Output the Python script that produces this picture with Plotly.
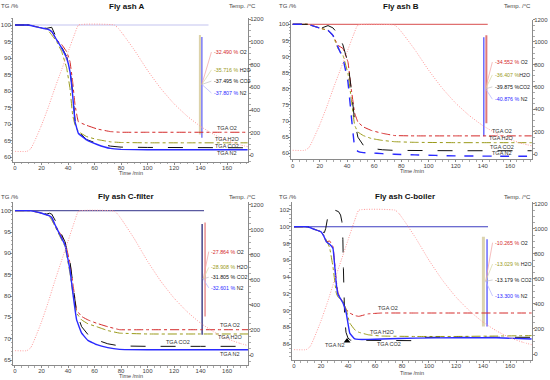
import plotly.graph_objects as go

W, H = 550, 380
FONT = "Liberation Sans"

# ---------------- data ----------------
GASES = ["O2", "H2O", "CO2", "N2"]

TEMP_T = [0, 9, 12, 15, 20, 25, 30, 35, 40, 45, 48, 75, 78, 82, 90, 100, 110, 120, 130, 140, 150, 160, 170, 176]
TEMP_V = [35, 35, 60, 130, 265, 420, 590, 750, 910, 1070, 1150, 1150, 1120, 1060, 930, 750, 590, 455, 345, 255, 185, 130, 92, 75]

# Panel A
A_T = [0, 10, 19, 24, 27.7, 31.4, 35.2, 39, 41.5, 43.5, 45.3, 47.8, 54, 62, 72, 80, 100, 130, 160, 175.5]
A_O2 = [100, 100, 99.2, 98.8, 98.0, 95.5, 94.1, 91.9, 88.9, 82.8, 75.8, 70.7, 69.6, 68.5, 67.7, 67.5, 67.5, 67.5, 67.5, 67.5]
A_H2O = [100, 100, 99.2, 98.8, 97.0, 95.0, 92.0, 86.9, 80.8, 72.7, 69.7, 67.7, 66.2, 65.3, 64.6, 64.4, 64.3, 64.3, 64.3, 64.3]
A_CO2 = [100, 100, 99.2, 99.0, 99.3, 96.0, 93.4, 90.4, 86.4, 79.8, 71.2, 67.7, 65.3, 64.1, 63.3, 63.0, 62.9, 62.8, 62.8, 62.8]
A_N2 = [100, 100, 99.2, 98.8, 98.0, 95.5, 93.0, 89.9, 85.9, 78.8, 70.7, 67.2, 65.2, 63.8, 62.6, 62.3, 62.2, 62.2, 62.2, 62.2]

# Panel B
B_T = [0, 11, 21, 26, 29.6, 33.3, 37, 40.7, 43.1, 45.6, 48, 52, 57.8, 66, 75, 90, 120, 150, 176]
B_O2 = [100, 100, 98.7, 98.1, 96.6, 93.5, 92.5, 88.3, 80.0, 72.5, 69.7, 68.2, 67.1, 66.2, 65.5, 65.4, 65.4, 65.4, 65.4]
B_H2O = [100, 100, 98.7, 98.1, 96.6, 92.5, 90.4, 84.7, 77.0, 68.7, 66.6, 65.5, 64.6, 64.0, 63.6, 63.4, 63.3, 63.3, 63.3]
B_CO2 = [100, 100, 98.8, 99.6, 98.9, 97.0, 93.6, 88.0, 80.0, 70.0, 65.0, 62.5, 61.5, 61.1, 60.9, 60.8, 60.8, 60.8, 60.8]
B_N2 = [100, 100, 98.7, 98.1, 96.6, 93.0, 89.4, 82.1, 71.8, 62.0, 60.6, 60.2, 60.1, 59.9, 59.7, 59.5, 59.2, 59.1, 59.1]

# Panel C
C_T = [0, 11, 19, 24, 26, 27.7, 30.2, 34, 37.7, 41.5, 44, 46.5, 50.3, 55, 61.7, 70, 79, 100, 140, 176]
C_O2 = [100, 100, 99.5, 99.0, 98.8, 98.4, 96.7, 94.7, 92.7, 87.7, 82.2, 76.7, 75.2, 74.4, 73.6, 72.8, 72.1, 72.1, 72.1, 72.1]
C_H2O = [100, 100, 99.5, 99.0, 98.6, 97.8, 96.3, 93.9, 91.6, 85.3, 79.9, 76.0, 74.4, 73.5, 72.8, 71.9, 71.3, 71.1, 71.1, 71.1]
C_CO2 = [100, 100, 99.5, 99.2, 99.4, 99.2, 97.8, 95.1, 92.7, 88.1, 81.4, 76.0, 72.8, 71.0, 69.7, 68.8, 68.3, 68.2, 68.2, 68.2]
C_N2 = [100, 100, 99.5, 99.0, 98.8, 98.4, 96.7, 94.3, 92.0, 86.1, 79.9, 74.4, 71.3, 69.6, 68.6, 67.9, 67.5, 67.4, 67.4, 67.4]

# Panel D
D_T = [0, 10, 15, 20, 22, 24, 26.4, 28.9, 31.3, 32.6, 36.3, 38.7, 41.3, 45, 48, 55, 65, 90, 120, 150, 176]
D_O2 = [100, 100, 99.7, 99.4, 98.9, 98.2, 98.3, 97.6, 93.6, 92.1, 90.9, 90.1, 89.7, 89.4, 89.3, 89.6, 89.7, 89.7, 89.7, 89.7, 89.7]
D_H2O = [100, 100, 99.7, 99.4, 99.0, 98.4, 97.5, 95.2, 92.1, 91.6, 91.1, 90.1, 88.5, 87.7, 87.4, 87.1, 86.95, 86.9, 86.9, 86.95, 87.0]
D_N2 = [100, 100, 99.7, 99.4, 98.9, 98.2, 97.9, 97.4, 93.2, 91.9, 90.9, 89.7, 87.3, 86.6, 86.55, 86.55, 86.6, 86.7, 86.75, 86.75, 86.6]
D_CO2_T = [0, 10, 15, 20, 22.5, 23.5, 24.5, 25.5, 27, 30, 33, 34.5, 35.5, 36.2, 36.6, 37.0, 37.5, 38.5, 40, 42, 60, 88, 91, 120, 150, 176]
D_CO2 = [100, 100, 99.7, 99.4, 99.3, 99.8, 100.8, 101.6, 102.0, 102.0, 101.8, 101.4, 100.6, 98.5, 95.0, 92.0, 89.3, 87.4, 86.7, 86.45, 86.4, 86.4, 86.8, 86.8, 86.8, 86.8]

# mass-change labels
A_PCT = ["-32.490 %", "-35.716 %", "-37.495 %", "-37.807 %"]
B_PCT = ["-34.552 %", "-36.407 %", "-39.875 %", "-40.876 %"]
C_PCT = ["-27.864 %", "-28.908 %", "-31.805 %", "-32.601 %"]
D_PCT = ["-10.265 %", "-13.029 %", "-13.179 %", "-13.300 %"]
B_SEP = [" ", "", "", " "]

# ---------------- styles ----------------
COL = {"O2": "#d42a2a", "H2O": "#9a9a1a", "CO2": "#111111", "N2": "#2a2aff"}
DASH = {"O2": "dashdot", "H2O": "dashdot", "CO2": "longdash", "N2": "solid"}
LEAD = {"O2": "#f0a0a0", "H2O": "#d8d8a0", "CO2": "#c0c0c0", "N2": "#b0b0ff"}

panels = [
    dict(title="Fly ash A", xdom=[13, 248], ydom=[18.3, 161.7], xr=[-1.5, 175.8], yr=[58.58, 102.03],
         y2r=[-56, 1209], ytick=dict(tick0=60, dtick=5), yminor=1,
         series=[(A_T, A_O2), (A_T, A_H2O), (A_T, A_CO2), (A_T, A_N2)], n2dash="solid",
         base=dict(end=146, color="#c4c4f0"),
         bars=[(139.5, 97.0, 66.8, "#ddd3aa", 2), (141.0, 96.4, 65.8, "#7a7af5", 1.5)],
         lead_from=(141.0, 82.0),
         pct=A_PCT, sep=[" "] * 4, pct_x=148.7, pct_y=[91.8, 86.4, 83.0, 79.4],
         tga_x=[160, 160, 160, 160], tga_y=[68.8, 65.45, 63.3, 61.2],
         head=(10, 126, 258, 6.5), xlab_y=172.5),
    dict(title="Fly ash B", xdom=[291, 532], ydom=[19.5, 159.3], xr=[-1.25, 176.2], yr=[58.14, 101.49],
         y2r=[-45, 1200], ytick=dict(tick0=60, dtick=5), yminor=1,
         series=[(B_T, B_O2), (B_T, B_H2O), (B_T, B_CO2), (B_T, B_N2)], n2dash="dash",
         base=dict(end=143.6, color="#e07070"),
         bars=[(140.7, 96.0, 65.3, "#6a6aff", 1.5), (142.6, 96.6, 69.3, "#e07878", 2)],
         lead_from=(142.0, 80.0),
         pct=B_PCT, sep=B_SEP, pct_x=147.5, pct_y=[88.3, 84.3, 80.6, 76.8],
         tga_x=[154, 154, 154, 154], tga_y=[67.0, 64.65, 62.0, 60.0],
         head=(288, 401, 533, 6.5), xlab_y=170.5),
    dict(title="Fly ash C-filter", xdom=[13, 248], ydom=[201.7, 365], xr=[-1.5, 175.8], yr=[63.83, 102.1],
         y2r=[-80, 1226], ytick=dict(tick0=65, dtick=5), yminor=1,
         series=[(C_T, C_O2), (C_T, C_H2O), (C_T, C_CO2), (C_T, C_N2)], n2dash="solid",
         base=dict(end=142.6, color="#5a5aa0"),
         bars=[(141.2, 96.9, 70.9, "#44448a", 1.5), (143.4, 97.2, 75.2, "#e89090", 1.5)],
         lead_from=(142.0, 84.0),
         pct=C_PCT, sep=[" "] * 4, pct_x=146.7, pct_y=[90.4, 86.7, 84.4, 81.9],
         tga_x=[162.3, 162.3, 123.3, 162.3], tga_y=[73.2, 70.5, 69.3, 66.3],
         head=(10, 126, 258, 197), xlab_y=375.5),
    dict(title="Fly ash C-boiler", xdom=[291.7, 532], ydom=[201.7, 360], xr=[-1.7, 176.3], yr=[84.09, 102.99],
         y2r=[-48, 1218], ytick=dict(tick0=86, dtick=2), yminor=0.5,
         series=[(D_T, D_O2), (D_T, D_H2O), (D_CO2_T, D_CO2), (D_T, D_N2)], n2dash="solid",
         base=dict(end=143.7, color="#3c3cc0"),
         bars=[(140.3, 98.8, 88.1, "#dcd4b0", 3), (143.0, 98.5, 88.1, "#6a6aff", 1.5)],
         lead_from=(142.0, 93.5),
         pct=D_PCT, sep=[" "] * 4, pct_x=147.6, pct_y=[98.1, 95.55, 93.64, 91.73],
         tga_x=[69.9, 65.7, 70.6, 30.4], tga_y=[90.26, 87.47, 86.0, 85.9],
         head=(288, 405, 533, 197), xlab_y=372.5),
]

fig = go.Figure()
layout = dict(width=W, height=H, margin=dict(l=0, r=0, t=0, b=0, autoexpand=False), paper_bgcolor="white",
              plot_bgcolor="white", showlegend=False, font=dict(family=FONT, size=6, color="#333"))
annotations = []
AX = dict(showline=True, linecolor="#8a8a8a", linewidth=1, ticks="outside", ticklen=2,
          tickcolor="#8a8a8a", tickwidth=1, showgrid=False, zeroline=False, automargin=False,
          ticklabelstandoff=-2, tickfont=dict(family=FONT, size=6, color="#444"))

for i, p in enumerate(panels, start=1):
    xref = "x" if i == 1 else f"x{i}"
    yl = "y" if i == 1 else f"y{2*i-1}"
    yr2 = f"y{2*i}"
    xkey = "xaxis" if i == 1 else f"xaxis{i}"
    ylkey = "yaxis" if i == 1 else f"yaxis{2*i-1}"
    yrkey = f"yaxis{2*i}"
    xd = [p["xdom"][0] / W, p["xdom"][1] / W]
    yd = [1 - p["ydom"][1] / H, 1 - p["ydom"][0] / H]
    layout[xkey] = dict(AX, domain=xd, range=p["xr"], anchor=yl, tick0=0, dtick=20,
                        minor=dict(ticks="outside", ticklen=1.5, dtick=5, tickcolor="#aaa"))
    layout[ylkey] = dict(AX, domain=yd, range=p["yr"], anchor=xref, side="left", **p["ytick"],
                         minor=dict(ticks="outside", ticklen=1.5, dtick=p["yminor"], tickcolor="#aaa"))
    layout[yrkey] = dict(AX, range=p["y2r"], overlaying=yl, anchor=xref, side="right",
                         tick0=0, dtick=200,
                         minor=dict(ticks="outside", ticklen=1.5, dtick=50, tickcolor="#aaa"))

    # temperature programme
    fig.add_trace(go.Scatter(x=TEMP_T, y=TEMP_V, xaxis=xref, yaxis=yr2, mode="lines",
                             line=dict(color="#ff9a9a", width=1, dash="1px,1.5px", shape="spline", smoothing=0.4)))
    # 100 % baseline
    fig.add_trace(go.Scatter(x=[0, p["base"]["end"]], y=[100, 100], xaxis=xref, yaxis=yl, mode="lines",
                             line=dict(color=p["base"]["color"], width=1.2)))
    # mass-change bars
    for (bt, top, bot, bc, bw) in p["bars"]:
        fig.add_trace(go.Scatter(x=[bt, bt], y=[top, bot], xaxis=xref, yaxis=yl, mode="lines",
                                 line=dict(color=bc, width=bw)))
    # leader lines
    lx, ly = p["lead_from"]
    for g, py_ in zip(GASES, p["pct_y"]):
        fig.add_trace(go.Scatter(x=[lx, p["pct_x"] - 0.5], y=[ly, py_], xaxis=xref, yaxis=yl, mode="lines",
                                 line=dict(color=LEAD[g], width=0.7)))
    # TGA curves
    for g, (tt, vv) in zip(GASES, p["series"]):
        dash = p["n2dash"] if g == "N2" else DASH[g]
        wid = 1.4 if g == "N2" else 1.0
        shape = dict(shape="linear") if g == "CO2" else dict(shape="spline", smoothing=0.2)
        fig.add_trace(go.Scatter(x=tt, y=vv, xaxis=xref, yaxis=yl, mode="lines",
                                 line=dict(color=COL[g], width=wid, dash=dash, **shape)))
    # percentage labels
    for g, txt, sep, py_ in zip(GASES, p["pct"], p["sep"], p["pct_y"]):
        annotations.append(dict(x=p["pct_x"], y=py_, xref=xref, yref=yl, xanchor="left", yanchor="middle",
                                showarrow=False,
                                text=f"<span style='color:{COL[g]}'>{txt}</span>{sep}{g}",
                                font=dict(family=FONT, size=5.3, color="#222")))
    # TGA labels
    for g, tx, ty in zip(GASES, p["tga_x"], p["tga_y"]):
        annotations.append(dict(x=tx, y=ty, xref=xref, yref=yl, xanchor="center", yanchor="middle",
                                showarrow=False, text=f"TGA {g}",
                                font=dict(family=FONT, size=5.5, color="#333")))
    # headers
    lx_, tx_, rx_, hy = p["head"]
    annotations.append(dict(x=tx_ / W, y=1 - hy / H, xref="paper", yref="paper", showarrow=False,
                            text=f"<b>{p['title']}</b>", font=dict(family=FONT, size=8, color="#111"),
                            xanchor="center", yanchor="middle"))
    annotations.append(dict(x=lx_ / W, y=1 - hy / H, xref="paper", yref="paper", showarrow=False,
                            text="TG /%", font=dict(family=FONT, size=6, color="#444"),
                            xanchor="center", yanchor="middle"))
    annotations.append(dict(x=rx_ / W, y=1 - hy / H, xref="paper", yref="paper", showarrow=False,
                            text="Temp. /°C", font=dict(family=FONT, size=6, color="#444"),
                            xanchor="right", yanchor="middle"))
    annotations.append(dict(x=(p["xdom"][0] + p["xdom"][1]) / 2 / W, y=1 - p["xlab_y"] / H,
                            xref="paper", yref="paper", showarrow=False, text="Time /min",
                            font=dict(family=FONT, size=5.5, color="#444"), xanchor="center", yanchor="middle"))

# arrow marker in panel D near "TGA N2"
D_ARROW_T = [39.3]
D_ARROW_V = [86.36]
fig.add_trace(go.Scatter(x=D_ARROW_T, y=D_ARROW_V, xaxis="x4", yaxis="y7", mode="markers",
                         marker=dict(symbol="triangle-up", size=6, color="black")))

layout["annotations"] = annotations
fig.update_layout(**layout)
fig.write_html("out.html", config={"displayModeBar": False},
               post_script="document.body.style.margin='0px';document.body.style.overflow='hidden';")
